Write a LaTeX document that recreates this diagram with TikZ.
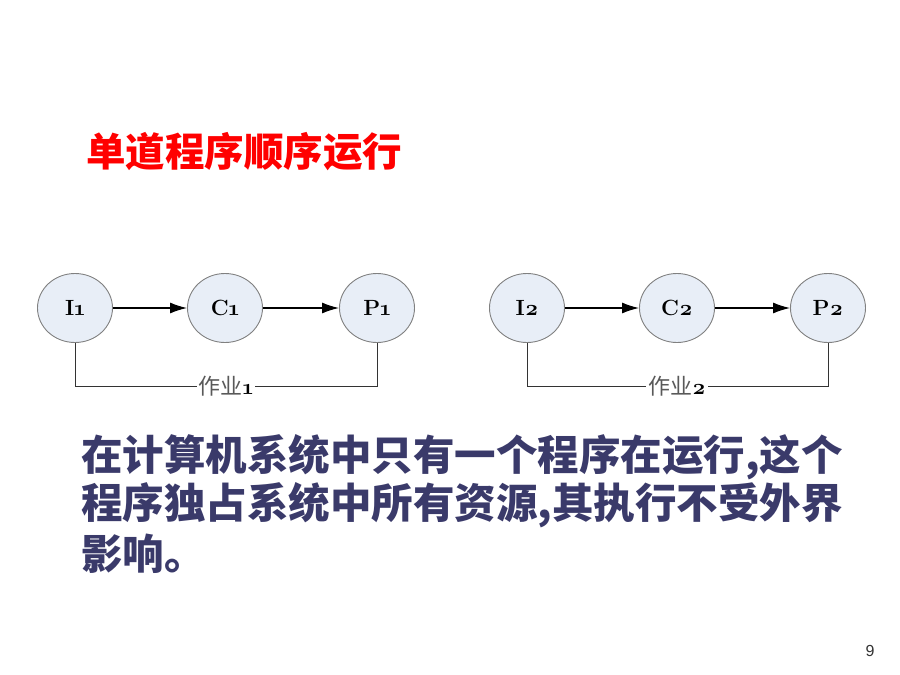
\documentclass[tikz,border=0pt]{standalone}
\usepackage{fontspec}
\setmainfont{Latin Modern Roman}
\newfontfamily\cjk{Noto Sans CJK SC}
\newfontfamily\numfont{Liberation Sans}
\usetikzlibrary{arrows.meta,shapes.geometric}
\definecolor{circfill}{RGB}{232,238,247}
\definecolor{circline}{RGB}{128,128,128}
\definecolor{bodynavy}{RGB}{58,58,106}
\definecolor{titlered}{RGB}{255,0,0}
\begin{document}
\begin{tikzpicture}[x=1pt,y=-1pt,
  stage/.style={ellipse, draw=circline, line width=0.9pt, fill=circfill,
    minimum width=75pt, minimum height=69pt, inner sep=0pt,
    font=\bfseries\fontsize{22}{24}\selectfont},
  flow/.style={line width=1.3pt, -{Latex[length=17pt,width=11pt]}},
  bracket/.style={line width=0.8pt, draw=black!80},
  joblabel/.style={fill=white, inner sep=2pt, text=black!65,
    font=\fontsize{22}{24}\selectfont},
  bodyline/.style={anchor=west, inner sep=0pt, text=bodynavy,
    font=\cjk\bfseries\fontsize{41.5}{48}\selectfont}
]
\useasboundingbox (0,0) rectangle (900,675);
% title
\node[anchor=west, inner sep=0pt, text=titlered,
  font=\cjk\bfseries\fontsize{39.5}{46}\selectfont] (title) at (86,152) {单道程序顺序运行};
% group 1
\node[stage] (I1) at (75,308) {I\oldstylenums{1}};
\node[stage] (C1) at (225,308) {C\oldstylenums{1}};
\node[stage] (P1) at (377,308) {P\oldstylenums{1}};
\draw[flow] (I1) -- (C1);
\draw[flow] (C1) -- (P1);
\node[joblabel] (L1) at (226,386) {{\cjk 作业}{\color{black}\textbf{\oldstylenums{1}}}};
\draw[bracket] (I1.south) |- (L1.west);
\draw[bracket] (P1.south) |- (L1.east);
% group 2
\node[stage] (I2) at (527,308) {I\oldstylenums{2}};
\node[stage] (C2) at (677,308) {C\oldstylenums{2}};
\node[stage] (P2) at (828,308) {P\oldstylenums{2}};
\draw[flow] (I2) -- (C2);
\draw[flow] (C2) -- (P2);
\node[joblabel] (L2) at (677,386) {{\cjk 作业}{\color{black}\textbf{\oldstylenums{2}}}};
\draw[bracket] (I2.south) |- (L2.west);
\draw[bracket] (P2.south) |- (L2.east);
% body text
\node[bodyline] (t1) at (81,457) {在计算机系统中只有一个程序在运行,这个};
\node[bodyline] (t2) at (81,505) {程序独占系统中所有资源,其执行不受外界};
\node[bodyline] (t3) at (81,554) {影响。};
% page number
\node[inner sep=0pt, text=black!80, font=\numfont\fontsize{16}{18}\selectfont] (pg) at (870,651) {9};
\end{tikzpicture}
\end{document}
